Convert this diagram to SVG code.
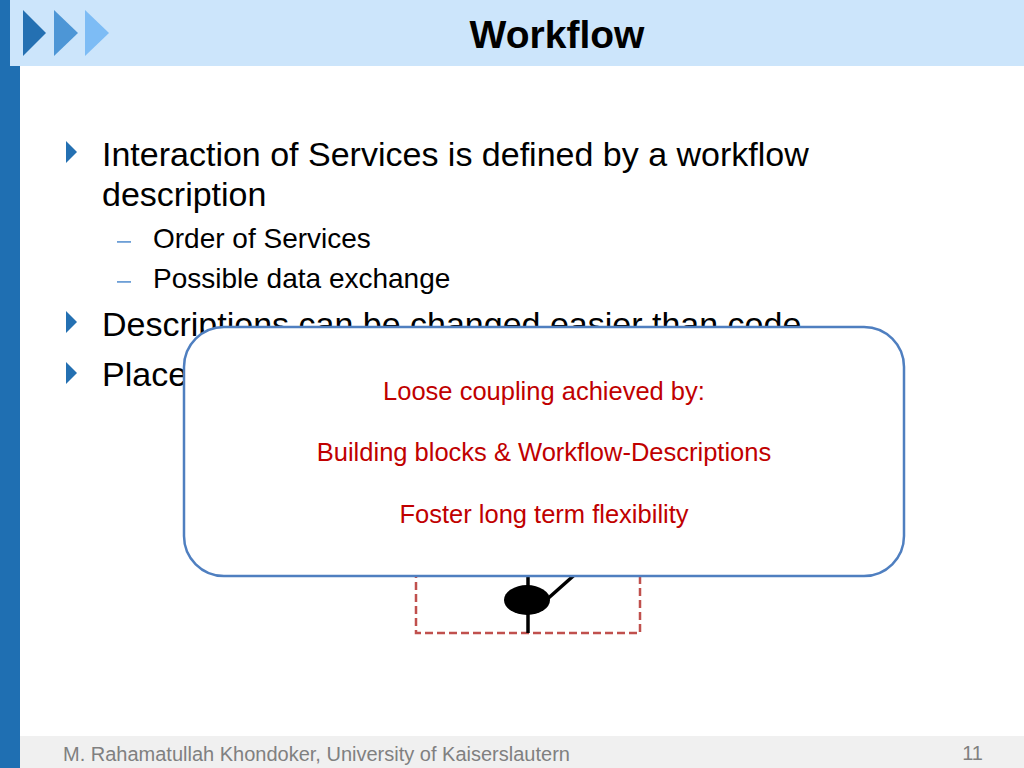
<svg xmlns="http://www.w3.org/2000/svg" width="1024" height="768" viewBox="0 0 1024 768">
<style>
.t{font-family:"Liberation Sans",Arial,sans-serif;}
.l1{font-size:34px;fill:#000;}
.l2{font-size:28px;fill:#000;}
.red{font-size:25.5px;fill:#c00000;text-anchor:middle;}
.bul{fill:#2470b2;}
</style>
<rect width="1024" height="768" fill="#fff"/>
<rect x="10" y="0" width="1014" height="66" fill="#cce5fb"/>
<rect x="0" y="0" width="10" height="768" fill="#1f6fb2"/>
<rect x="0" y="66" width="20" height="702" fill="#1f6fb2"/>
<rect x="20" y="736" width="1004" height="32" fill="#f0f0f0"/>
<polygon points="23,10 46,33 23,56" fill="#2470b2"/>
<polygon points="54,10 78,33 54,56" fill="#4d96d6"/>
<polygon points="85,10 109,33 85,56" fill="#7dbcf5"/>
<text class="t" x="557" y="48" font-size="39" font-weight="bold" text-anchor="middle">Workflow</text>
<g id="bullets">
<polygon class="bul" points="66,141 77,152 66,163"/>
<text class="t l1" x="102" y="166">Interaction of Services is defined by a workflow</text>
<text class="t l1" x="102" y="206">description</text>
<rect x="117" y="241" width="14" height="1.8" fill="#6d9fd6"/>
<text class="t l2" x="153" y="248">Order of Services</text>
<rect x="117" y="281" width="14" height="1.8" fill="#6d9fd6"/>
<text class="t l2" x="153" y="288">Possible data exchange</text>
<polygon class="bul" points="66,311 77,322 66,333"/>
<text class="t l1" x="102" y="336">Descriptions can be changed easier than code</text>
<polygon class="bul" points="66,362 77,373 66,384"/>
<text class="t l1" x="102" y="386">Place</text>
</g>
<g id="workflow-symbol">
<rect x="416" y="500" width="224" height="133" fill="none" stroke="#c0504d" stroke-width="2.5" stroke-dasharray="8,4"/>
<line x1="528" y1="500" x2="528" y2="633" stroke="#000" stroke-width="3.5"/>
<line x1="544" y1="602" x2="580" y2="570" stroke="#000" stroke-width="3.5"/>
<ellipse cx="527" cy="600" rx="23" ry="15" fill="#000"/>
</g>
<g id="callout">
<rect x="184" y="327" width="720" height="249" rx="40" ry="40" fill="#fff" stroke="#4f7fc0" stroke-width="2.5"/>
<text class="t red" x="544" y="400">Loose coupling achieved by:</text>
<text class="t red" x="544" y="461">Building blocks &amp; Workflow-Descriptions</text>
<text class="t red" x="544" y="523">Foster long term flexibility</text>
</g>
<text class="t" x="63" y="761" font-size="20" fill="#808080">M. Rahamatullah Khondoker, University of Kaiserslautern</text>
<text class="t" x="983" y="760" font-size="20" fill="#808080" text-anchor="end">11</text>
</svg>
